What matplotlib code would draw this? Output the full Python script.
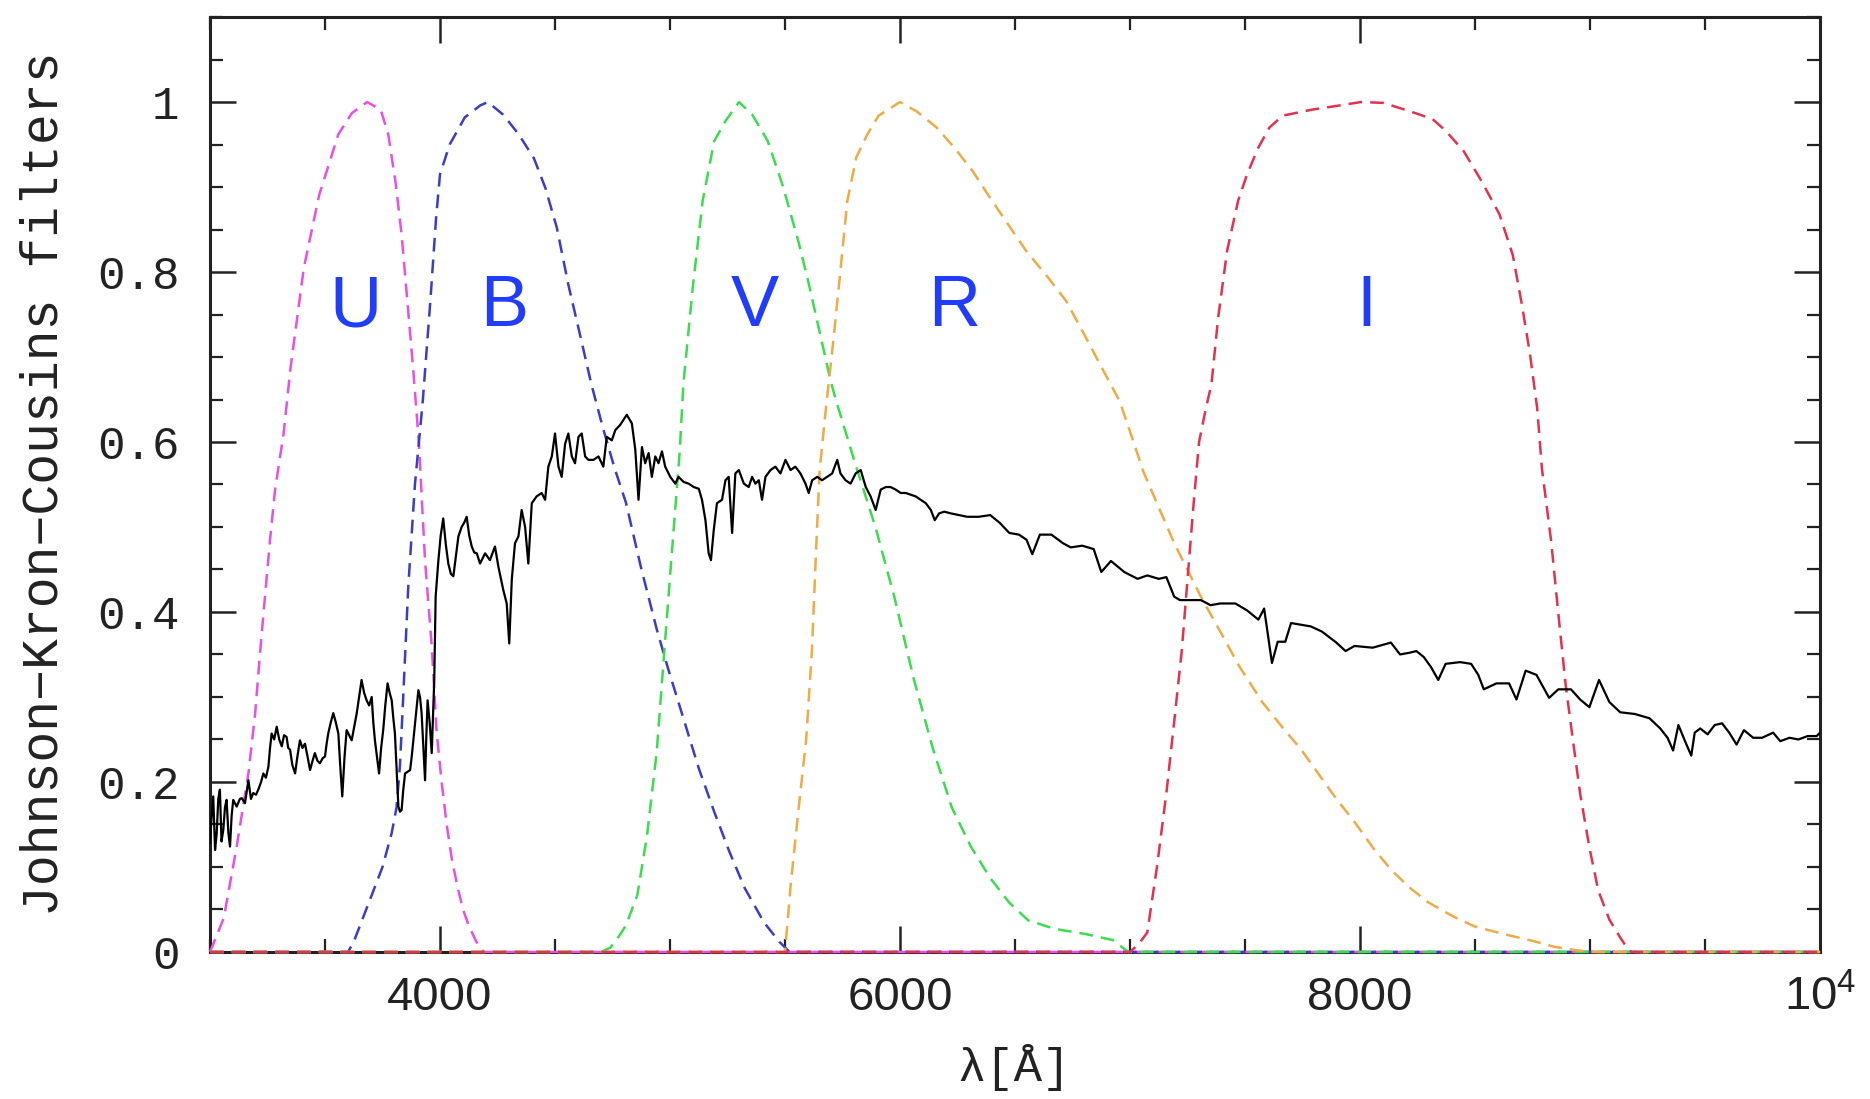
import numpy as np
import matplotlib.pyplot as plt
from matplotlib.ticker import MultipleLocator, FixedFormatter, FixedLocator

# galaxy spectrum (normalised flux)
spec_wl = [3000, 3007, 3014, 3022, 3029, 3036, 3043, 3050, 3058, 3065, 3072, 3080, 3087, 3094,
           3101, 3116, 3130, 3138, 3152, 3167, 3178, 3188, 3200, 3210, 3222, 3232, 3243, 3254,
           3261, 3268, 3279, 3290, 3301, 3312, 3322, 3333, 3340, 3348, 3358, 3370, 3380, 3391,
           3402, 3413, 3424, 3435, 3446, 3456, 3467, 3478, 3490, 3500, 3507, 3514, 3525, 3536,
           3547, 3558, 3566, 3575, 3585, 3594, 3605, 3616, 3627, 3638, 3648, 3659, 3670, 3681,
           3692, 3703, 3710, 3717, 3726, 3735, 3744, 3753, 3762, 3772, 3781, 3790, 3797, 3804,
           3812, 3819, 3826, 3833, 3840, 3848, 3859, 3870, 3877, 3884, 3895, 3906, 3913, 3920,
           3928, 3935, 3940, 3946, 3955, 3964, 3970, 3975, 3981, 3987, 3993, 4003, 4014, 4025,
           4036, 4047, 4058, 4069, 4080, 4094, 4105, 4116, 4127, 4138, 4149, 4160, 4174, 4196,
           4217, 4239, 4254, 4275, 4290, 4301, 4312, 4326, 4341, 4355, 4370, 4384, 4399, 4420,
           4442, 4457, 4471, 4486, 4500, 4515, 4529, 4544, 4558, 4573, 4587, 4602, 4616, 4631,
           4645, 4667, 4689, 4710, 4725, 4747, 4762, 4783, 4812, 4834, 4849, 4863, 4878, 4892,
           4907, 4921, 4936, 4950, 4965, 4979, 5001, 5023, 5037, 5059, 5081, 5103, 5125, 5139,
           5154, 5168, 5178, 5190, 5204, 5226, 5241, 5255, 5270, 5284, 5299, 5321, 5342, 5357,
           5371, 5386, 5400, 5415, 5437, 5458, 5480, 5502, 5524, 5545, 5567, 5589, 5603, 5618,
           5640, 5661, 5683, 5705, 5727, 5741, 5763, 5785, 5807, 5829, 5851, 5872, 5894, 5916,
           5938, 5959, 5981, 6003, 6025, 6047, 6068, 6090, 6112, 6134, 6151, 6170, 6192, 6221,
           6257, 6292, 6342, 6392, 6433, 6475, 6517, 6550, 6575, 6608, 6658, 6708, 6742, 6792,
           6842, 6875, 6917, 6975, 7033, 7075, 7125, 7158, 7192, 7217, 7258, 7308, 7350, 7392,
           7458, 7508, 7558, 7583, 7617, 7642, 7675, 7700, 7742, 7786, 7834, 7897, 7937, 7976,
           8055, 8134, 8174, 8214, 8245, 8277, 8309, 8340, 8372, 8435, 8483, 8514, 8538, 8593,
           8648, 8680, 8720, 8767, 8822, 8862, 8917, 8957, 8997, 9039, 9084, 9131, 9194, 9258,
           9305, 9337, 9361, 9384, 9416, 9440, 9455, 9479, 9511, 9542, 9574, 9605, 9637, 9669,
           9709, 9748, 9796, 9827, 9867, 9906, 9946, 9985, 10000]
spec_fl = [0.128, 0.16, 0.183, 0.12, 0.139, 0.18, 0.191, 0.13, 0.144, 0.17, 0.179, 0.14, 0.124, 0.16,
           0.179, 0.171, 0.18, 0.181, 0.175, 0.202, 0.18, 0.187, 0.185, 0.191, 0.2, 0.21, 0.205, 0.218,
           0.24, 0.257, 0.25, 0.265, 0.25, 0.242, 0.255, 0.253, 0.24, 0.238, 0.22, 0.21, 0.23, 0.249,
           0.24, 0.245, 0.23, 0.214, 0.225, 0.234, 0.225, 0.222, 0.228, 0.23, 0.245, 0.257, 0.27, 0.281,
           0.27, 0.257, 0.22, 0.183, 0.23, 0.261, 0.255, 0.249, 0.265, 0.281, 0.3, 0.32, 0.305, 0.296,
           0.29, 0.3, 0.27, 0.249, 0.23, 0.21, 0.24, 0.261, 0.29, 0.316, 0.305, 0.296, 0.275, 0.257,
           0.21, 0.171, 0.165, 0.167, 0.19, 0.21, 0.212, 0.214, 0.23, 0.249, 0.28, 0.308, 0.3, 0.281,
           0.24, 0.202, 0.25, 0.296, 0.27, 0.234, 0.28, 0.32, 0.418, 0.44, 0.461, 0.49, 0.51, 0.48,
           0.457, 0.445, 0.442, 0.465, 0.489, 0.5, 0.505, 0.512, 0.49, 0.477, 0.47, 0.469, 0.457, 0.469,
           0.461, 0.477, 0.453, 0.426, 0.41, 0.363, 0.438, 0.481, 0.489, 0.52, 0.5, 0.457, 0.528, 0.536,
           0.54, 0.532, 0.571, 0.583, 0.61, 0.571, 0.559, 0.598, 0.61, 0.583, 0.575, 0.606, 0.61, 0.583,
           0.579, 0.579, 0.583, 0.571, 0.606, 0.602, 0.614, 0.62, 0.632, 0.622, 0.591, 0.532, 0.594, 0.575,
           0.587, 0.559, 0.583, 0.575, 0.589, 0.571, 0.559, 0.551, 0.559, 0.553, 0.551, 0.547, 0.545, 0.532,
           0.508, 0.469, 0.461, 0.496, 0.528, 0.532, 0.555, 0.559, 0.493, 0.563, 0.567, 0.551, 0.547, 0.559,
           0.551, 0.555, 0.532, 0.559, 0.567, 0.571, 0.563, 0.579, 0.567, 0.571, 0.563, 0.551, 0.54, 0.555,
           0.559, 0.555, 0.559, 0.563, 0.579, 0.563, 0.555, 0.551, 0.563, 0.567, 0.547, 0.536, 0.52, 0.544,
           0.547, 0.547, 0.544, 0.54, 0.54, 0.538, 0.536, 0.532, 0.528, 0.52, 0.508, 0.516, 0.518, 0.516,
           0.514, 0.512, 0.512, 0.514, 0.505, 0.493, 0.491, 0.485, 0.468, 0.491, 0.491, 0.481, 0.476, 0.478,
           0.474, 0.447, 0.46, 0.447, 0.439, 0.443, 0.439, 0.441, 0.418, 0.414, 0.414, 0.414, 0.408, 0.41,
           0.41, 0.402, 0.391, 0.404, 0.34, 0.365, 0.365, 0.387, 0.385, 0.383, 0.377, 0.364, 0.354, 0.36,
           0.358, 0.364, 0.35, 0.352, 0.354, 0.347, 0.335, 0.32, 0.339, 0.341, 0.339, 0.326, 0.309, 0.316,
           0.316, 0.297, 0.331, 0.326, 0.299, 0.309, 0.309, 0.297, 0.288, 0.32, 0.294, 0.282, 0.28, 0.275,
           0.263, 0.252, 0.237, 0.267, 0.246, 0.231, 0.258, 0.263, 0.256, 0.267, 0.269, 0.258, 0.244, 0.261,
           0.252, 0.252, 0.258, 0.248, 0.252, 0.25, 0.254, 0.254, 0.258]

# Johnson-Kron-Cousins transmission curves
u_wl = [3000, 3060, 3116, 3167, 3196, 3217, 3239, 3261, 3283, 3320, 3350, 3408, 3475, 3558, 3617,
        3683, 3742, 3775, 3808, 3833, 3858, 3883, 3908, 3935, 3964, 3985, 4007, 4029, 4051, 4075,
        4100, 4125, 4158, 4190, 10000]
u_tr = [0, 0.04, 0.124, 0.21, 0.28, 0.35, 0.418, 0.485, 0.544, 0.61, 0.687, 0.805, 0.891, 0.962, 0.987,
        1.0, 0.991, 0.962, 0.903, 0.844, 0.766, 0.687, 0.6, 0.46, 0.36, 0.26, 0.2, 0.15, 0.11, 0.078,
        0.05, 0.031, 0.012, 0, 0]

b_wl = [3000, 3600, 3625, 3692, 3750, 3790, 3811, 3826, 3840, 3862, 3891, 3925, 3958, 3983, 4000,
        4042, 4108, 4175, 4208, 4275, 4342, 4408, 4458, 4508, 4558, 4608, 4658, 4708, 4758, 4808,
        4875, 4942, 4992, 5058, 5125, 5192, 5258, 5325, 5408, 5475, 5520, 10000]
b_tr = [0, 0, 0.012, 0.059, 0.1, 0.14, 0.17, 0.22, 0.3, 0.43, 0.55, 0.648, 0.766, 0.864, 0.915,
        0.95, 0.982, 0.996, 1.0, 0.985, 0.962, 0.934, 0.899, 0.852, 0.785, 0.727, 0.668, 0.617, 0.57, 0.529,
        0.451, 0.38, 0.333, 0.275, 0.216, 0.165, 0.118, 0.075, 0.035, 0.012, 0, 0]

v_wl = [3000, 4700, 4740, 4767, 4808, 4858, 4900, 4942, 4975, 5008, 5042, 5058, 5100, 5142, 5192,
        5242, 5300, 5358, 5425, 5492, 5558, 5600, 5650, 5700, 5725, 5808, 5892, 5975, 6058, 6142,
        6225, 6308, 6392, 6475, 6558, 6675, 6808, 6925, 6992, 10000]
v_tr = [0, 0, 0.005, 0.014, 0.031, 0.067, 0.137, 0.235, 0.353, 0.47, 0.588, 0.668, 0.785, 0.884, 0.954,
        0.978, 1.0, 0.985, 0.954, 0.9, 0.836, 0.79, 0.73, 0.67, 0.646, 0.572, 0.501, 0.418, 0.323, 0.24,
        0.17, 0.124, 0.087, 0.058, 0.037, 0.027, 0.021, 0.014, 0, 0]

r_wl = [3000, 5500, 5525, 5558, 5592, 5617, 5633, 5650, 5674, 5713, 5742, 5771, 5810, 5858, 5907,
        6000, 6072, 6159, 6237, 6315, 6392, 6470, 6548, 6645, 6722, 6800, 6878, 6955, 7014, 7058,
        7192, 7308, 7392, 7475, 7575, 7675, 7739, 7818, 7897, 7976, 8055, 8134, 8214, 8293, 8403,
        8498, 8625, 8751, 8846, 8941, 9005, 10000]
r_tr = [0, 0, 0.08, 0.166, 0.25, 0.355, 0.46, 0.565, 0.63, 0.727, 0.805, 0.884, 0.935, 0.962, 0.984,
        1.0, 0.989, 0.97, 0.946, 0.919, 0.887, 0.856, 0.825, 0.793, 0.766, 0.727, 0.687, 0.648, 0.601, 0.565,
        0.481, 0.418, 0.377, 0.336, 0.294, 0.26, 0.24, 0.21, 0.18, 0.153, 0.123, 0.097, 0.076, 0.059, 0.042,
        0.03, 0.021, 0.013, 0.006, 0.002, 0, 0]

i_wl = [3000, 7000, 7040, 7075, 7117, 7158, 7192, 7225, 7250, 7275, 7300, 7330, 7354, 7383, 7422,
        7470, 7509, 7557, 7606, 7664, 7791, 7888, 8004, 8101, 8218, 8315, 8373, 8451, 8528, 8606,
        8664, 8702, 8738, 8770, 8791, 8831, 8862, 8894, 8925, 8957, 8997, 9036, 9084, 9131, 9163,
        9180, 10000]
i_tr = [0, 0, 0.01, 0.023, 0.1, 0.187, 0.271, 0.355, 0.439, 0.523, 0.6, 0.64, 0.668, 0.746, 0.825,
        0.884, 0.915, 0.946, 0.97, 0.984, 0.991, 0.995, 1.0, 0.999, 0.989, 0.98, 0.966, 0.942, 0.907, 0.868,
        0.82, 0.764, 0.705, 0.64, 0.568, 0.483, 0.398, 0.314, 0.25, 0.186, 0.123, 0.072, 0.038, 0.017, 0.004,
        0, 0]

band_names = ['U', 'B', 'V', 'R', 'I']
band_centres = [3633, 4278, 5367, 6237, 8027]
band_colors = ['#e650e6', '#3c3cc8', '#3cdc50', '#f0aa46', '#e13250']

x_ticks = [4000, 6000, 8000, 10000]
x_ticklabels = ['4000', '6000', '8000', r'$\mathregular{10^4}$']
y_ticks = [0, 0.2, 0.4, 0.6, 0.8, 1.0]
y_ticklabels = ['0', '0.2', '0.4', '0.6', '0.8', '1']

fig = plt.figure(figsize=(18.7, 10.99), dpi=100)
ax = fig.add_axes([0.1123, 0.1338, 0.861, 0.8507])

filters = [(u_wl, u_tr), (b_wl, b_tr), (v_wl, v_tr), (r_wl, r_tr), (i_wl, i_tr)]
for (wl, tr), col in zip(filters, band_colors):
    ax.plot(wl, tr, color=col, lw=1.8, dashes=(5.5, 3.2), zorder=3, clip_on=False)

ax.plot(spec_wl, spec_fl, color='black', lw=1.6, zorder=4)

for name, xc in zip(band_names, band_centres):
    ax.text(xc, 0.736, name, color='#1f3cff', fontsize=52, family='Liberation Sans',
            ha='center', va='baseline')

ax.set_xlim(3000, 10000)
ax.set_ylim(0, 1.1)

ax.xaxis.set_major_locator(FixedLocator(x_ticks))
ax.xaxis.set_major_formatter(FixedFormatter(x_ticklabels))
ax.xaxis.set_minor_locator(MultipleLocator(500))
ax.yaxis.set_major_locator(FixedLocator(y_ticks))
ax.yaxis.set_major_formatter(FixedFormatter(y_ticklabels))
ax.yaxis.set_minor_locator(MultipleLocator(0.05))

ax.tick_params(which='both', direction='in', top=True, right=True, color='#222222')
ax.tick_params(which='major', length=19, width=1.8)
ax.tick_params(which='minor', length=9.5, width=1.6)
ax.tick_params(axis='x', which='major', pad=17, labelsize=34, labelcolor='#222222')
ax.tick_params(axis='y', which='major', pad=22, labelsize=33, labelcolor='#222222')
for lab in ax.get_xticklabels():
    lab.set_family('Liberation Sans')
for lab in ax.get_yticklabels():
    lab.set_family(['Liberation Mono', 'DejaVu Serif'])
for sp in ax.spines.values():
    sp.set_linewidth(2.2)
    sp.set_color('#222222')

fig.text(44 / 1870, 1 - 484 / 1099, 'Johnson\u2212Kron\u2212Cousins filters', rotation=90,
         ha='center', va='center', fontsize=37, color='#222222',
         family=['Liberation Mono', 'DejaVu Serif'])
fig.text(1014 / 1870, 1 - 1067 / 1099, '\u03bb[\u00c5]', ha='center', va='center',
         fontsize=34, color='#222222', family=['Liberation Mono', 'DejaVu Serif'])

plt.savefig('out.png', dpi=100, facecolor='white')
